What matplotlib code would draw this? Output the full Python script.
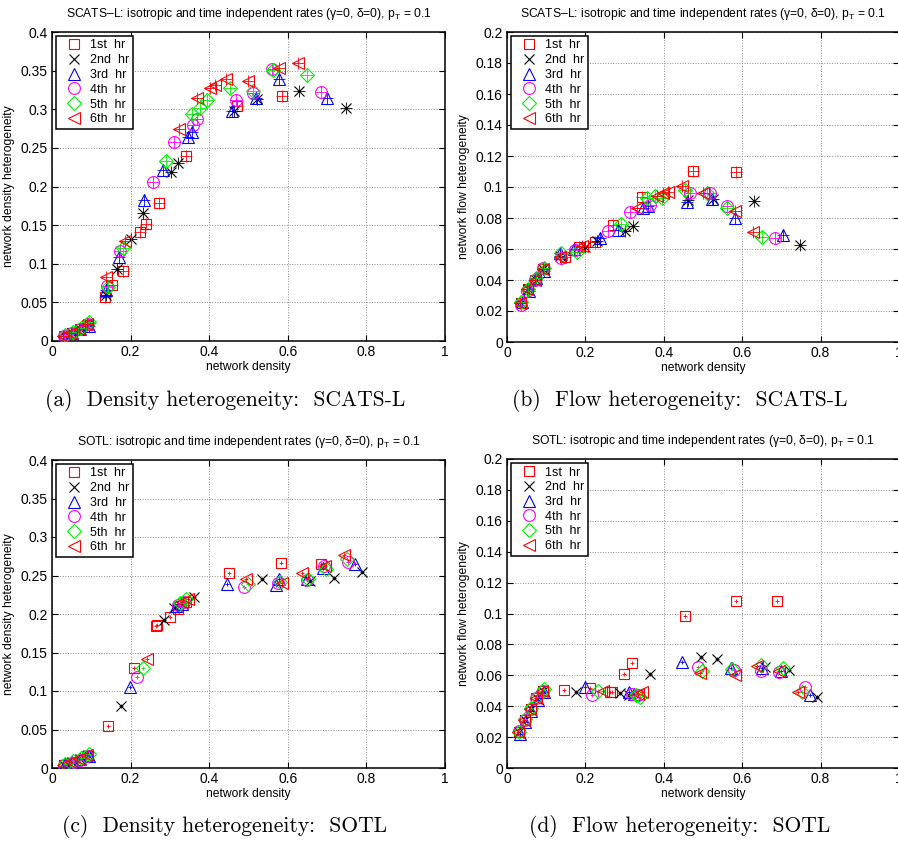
import numpy as np
import matplotlib
matplotlib.use("Agg")
import matplotlib.pyplot as plt

plt.rcParams['font.family'] = ['Liberation Sans', 'DejaVu Sans']
plt.rcParams['mathtext.fontset'] = 'custom'
plt.rcParams['mathtext.rm'] = 'Liberation Sans'
plt.rcParams['mathtext.it'] = 'Liberation Sans'

hours = ['1st  hr', '2nd  hr', '3rd  hr', '4th  hr', '5th  hr', '6th  hr']
colors = ['#ff0000', '#000000', '#0000ff', '#ff00ff', '#00ee00', '#ff0000']
markers = ['s', 'x', '^', 'o', 'D', '<']
msizes = [6.5, 6.5, 9, 8.5, 7, 9]

# (a) SCATS-L density heterogeneity
a_x = [
    [0.03, 0.05, 0.07, 0.09, 0.135, 0.152, 0.180, 0.224, 0.238, 0.271, 0.341, 0.471, 0.584],
    [0.032, 0.052, 0.072, 0.092, 0.137, 0.165, 0.200, 0.232, 0.302, 0.321, 0.464, 0.522, 0.629, 0.747],
    [0.031, 0.051, 0.071, 0.094, 0.137, 0.171, 0.234, 0.282, 0.347, 0.355, 0.459, 0.518, 0.578, 0.701],
    [0.03, 0.05, 0.07, 0.091, 0.141, 0.173, 0.258, 0.310, 0.358, 0.368, 0.467, 0.512, 0.559, 0.684],
    [0.033, 0.053, 0.073, 0.093, 0.143, 0.180, 0.289, 0.355, 0.377, 0.394, 0.453, 0.512, 0.562, 0.650],
    [0.029, 0.049, 0.069, 0.09, 0.137, 0.186, 0.324, 0.368, 0.402, 0.415, 0.444, 0.498, 0.578, 0.627],
]
a_y = [
    [0.006, 0.010, 0.015, 0.021, 0.057, 0.0725, 0.090, 0.141, 0.152, 0.179, 0.239, 0.304, 0.317],
    [0.007, 0.011, 0.016, 0.022, 0.0595, 0.093, 0.132, 0.166, 0.219, 0.231, 0.298, 0.313, 0.3236, 0.302],
    [0.006, 0.010, 0.015, 0.020, 0.066, 0.109, 0.183, 0.222, 0.264, 0.271, 0.298, 0.314, 0.339, 0.314],
    [0.007, 0.011, 0.016, 0.022, 0.071, 0.116, 0.206, 0.257, 0.280, 0.287, 0.312, 0.321, 0.352, 0.322],
    [0.008, 0.012, 0.017, 0.024, 0.070, 0.120, 0.233, 0.294, 0.302, 0.312, 0.328, 0.323, 0.351, 0.344],
    [0.007, 0.011, 0.016, 0.022, 0.0824, 0.130, 0.275, 0.315, 0.327, 0.332, 0.339, 0.336, 0.353, 0.360],
]

# (b) SCATS-L flow heterogeneity
b_x = [
    [0.035, 0.053, 0.072, 0.092, 0.148, 0.183, 0.224, 0.271, 0.344, 0.474, 0.583],
    [0.036, 0.054, 0.073, 0.093, 0.135, 0.199, 0.229, 0.301, 0.321, 0.462, 0.526, 0.631, 0.747],
    [0.037, 0.055, 0.074, 0.095, 0.135, 0.170, 0.237, 0.284, 0.348, 0.360, 0.458, 0.522, 0.582, 0.705],
    [0.035, 0.052, 0.071, 0.093, 0.139, 0.174, 0.258, 0.314, 0.365, 0.467, 0.518, 0.560, 0.684],
    [0.036, 0.054, 0.073, 0.094, 0.139, 0.178, 0.290, 0.356, 0.378, 0.395, 0.454, 0.510, 0.560, 0.651],
    [0.034, 0.052, 0.072, 0.092, 0.135, 0.191, 0.331, 0.382, 0.399, 0.411, 0.446, 0.501, 0.582, 0.628],
]
b_y = [
    [0.025, 0.034, 0.040, 0.047, 0.055, 0.0615, 0.0647, 0.0755, 0.0938, 0.1102, 0.110],
    [0.025, 0.034, 0.040, 0.047, 0.0556, 0.0615, 0.0654, 0.0718, 0.0748, 0.0916, 0.092, 0.091, 0.0626],
    [0.026, 0.033, 0.041, 0.046, 0.0572, 0.060, 0.0669, 0.0723, 0.0862, 0.088, 0.0905, 0.0925, 0.0798, 0.069],
    [0.024, 0.033, 0.040, 0.048, 0.054, 0.0594, 0.0718, 0.084, 0.0884, 0.096, 0.0963, 0.0877, 0.0669],
    [0.026, 0.034, 0.041, 0.048, 0.0572, 0.0583, 0.0761, 0.0927, 0.094, 0.0927, 0.098, 0.096, 0.0862, 0.0675],
    [0.025, 0.034, 0.040, 0.047, 0.055, 0.062, 0.0862, 0.094, 0.096, 0.097, 0.1006, 0.0959, 0.0847, 0.0712],
]

# (c) SOTL density heterogeneity
c_x = [
    [0.03, 0.05, 0.07, 0.09, 0.143, 0.209, 0.265, 0.268, 0.299, 0.32, 0.34, 0.451, 0.583, 0.685],
    [0.031, 0.051, 0.071, 0.091, 0.175, 0.286, 0.31, 0.362, 0.535, 0.656, 0.717, 0.788],
    [0.032, 0.052, 0.072, 0.095, 0.198, 0.315, 0.33, 0.445, 0.570, 0.577, 0.648, 0.69, 0.771],
    [0.03, 0.05, 0.07, 0.09, 0.217, 0.32, 0.335, 0.489, 0.575, 0.648, 0.692, 0.754],
    [0.033, 0.053, 0.073, 0.094, 0.232, 0.325, 0.34, 0.499, 0.58, 0.652, 0.697, 0.750],
    [0.029, 0.049, 0.069, 0.089, 0.243, 0.33, 0.345, 0.493, 0.585, 0.635, 0.695, 0.743],
]
c_y = [
    [0.004, 0.007, 0.011, 0.016, 0.055, 0.1295, 0.185, 0.186, 0.1965, 0.207, 0.215, 0.2528, 0.2667, 0.2645],
    [0.004, 0.008, 0.012, 0.017, 0.0805, 0.192, 0.208, 0.2225, 0.2455, 0.243, 0.247, 0.255],
    [0.005, 0.008, 0.012, 0.016, 0.1056, 0.210, 0.213, 0.239, 0.238, 0.245, 0.245, 0.26, 0.2645],
    [0.004, 0.007, 0.011, 0.016, 0.1186, 0.212, 0.216, 0.2355, 0.240, 0.244, 0.262, 0.267],
    [0.005, 0.009, 0.013, 0.018, 0.1295, 0.214, 0.219, 0.2385, 0.242, 0.246, 0.259, 0.272],
    [0.004, 0.008, 0.012, 0.017, 0.141, 0.215, 0.219, 0.245, 0.24, 0.2537, 0.262, 0.2766],
]

# (d) SOTL flow heterogeneity
d_x = [
    [0.03, 0.045, 0.06, 0.075, 0.092, 0.145, 0.211, 0.262, 0.268, 0.298, 0.320, 0.454, 0.583, 0.688],
    [0.031, 0.046, 0.061, 0.076, 0.093, 0.175, 0.288, 0.31, 0.365, 0.495, 0.535, 0.658, 0.720, 0.790],
    [0.032, 0.047, 0.062, 0.078, 0.095, 0.199, 0.31, 0.325, 0.446, 0.571, 0.65, 0.70, 0.773],
    [0.03, 0.045, 0.06, 0.075, 0.091, 0.217, 0.32, 0.335, 0.488, 0.578, 0.648, 0.695, 0.760],
    [0.031, 0.046, 0.061, 0.076, 0.094, 0.231, 0.33, 0.34, 0.497, 0.575, 0.648, 0.703, 0.752],
    [0.029, 0.044, 0.059, 0.074, 0.09, 0.244, 0.335, 0.345, 0.492, 0.582, 0.637, 0.695, 0.743],
]
d_y = [
    [0.023, 0.031, 0.038, 0.045, 0.050, 0.0505, 0.052, 0.0494, 0.0494, 0.0608, 0.0678, 0.0986, 0.1083, 0.108],
    [0.023, 0.031, 0.038, 0.045, 0.050, 0.0494, 0.0483, 0.0475, 0.0608, 0.072, 0.0705, 0.0656, 0.0634, 0.0457],
    [0.022, 0.030, 0.037, 0.044, 0.049, 0.0522, 0.049, 0.048, 0.0688, 0.065, 0.065, 0.063, 0.0472],
    [0.024, 0.031, 0.038, 0.045, 0.050, 0.0473, 0.048, 0.047, 0.0656, 0.0635, 0.0626, 0.062, 0.0522],
    [0.023, 0.032, 0.039, 0.046, 0.051, 0.050, 0.047, 0.046, 0.063, 0.064, 0.0667, 0.0645, 0.049],
    [0.023, 0.031, 0.038, 0.045, 0.050, 0.050, 0.048, 0.049, 0.0613, 0.0602, 0.066, 0.0625, 0.0494],
]

title_scats = 'SCATS\u2013L: isotropic and time independent rates (\u03b3=0, \u03b4=0), p$_{\\rm T}$ = 0.1'
title_sotl = 'SOTL: isotropic and time independent rates (\u03b3=0, \u03b4=0), p$_{\\rm T}$ = 0.1'

W, H = 898, 844
fig = plt.figure(figsize=(W / 100, H / 100), dpi=100)

panels = [
    # data x, data y, rect in px (left, top, right, bottom), ymax, ystep, ylabel, title, plus size, caption, caption pos
    (a_x, a_y, (52, 32, 445, 341), 0.4, 0.05, 'network density heterogeneity', title_scats, 8,
     '(a)  Density heterogeneity:  SCATS-L', (225, 400)),
    (b_x, b_y, (507, 32, 899, 342), 0.2, 0.02, 'network flow heterogeneity', title_scats, 8,
     '(b)  Flow heterogeneity:  SCATS-L', (680, 400)),
    (c_x, c_y, (52, 460, 445, 768), 0.4, 0.05, 'network density heterogeneity', title_sotl, 2.5,
     '(c)  Density heterogeneity:  SOTL', (225, 827)),
    (d_x, d_y, (507, 459, 899, 768), 0.2, 0.02, 'network flow heterogeneity', title_sotl, 2.5,
     '(d)  Flow heterogeneity:  SOTL', (680, 827)),
]

for xs, ys, rect, ymax, ystep, ylab, title, plus, cap, cpos in panels:
    l, t, r, b = rect
    ax = fig.add_axes([l / W, 1 - b / H, (r - l) / W, (b - t) / H])
    for i in range(6):
        ax.plot(xs[i], ys[i], ls='none', marker=markers[i], mfc='none', mec=colors[i],
                ms=msizes[i], mew=0.8, label=hours[i], zorder=3)
        ax.plot(xs[i], ys[i], ls='none', marker='+', color=colors[i], ms=plus, mew=0.6, zorder=3)
    ax.set_xlim(0, 1)
    ax.set_ylim(0, ymax)
    ax.set_xticks(np.arange(0, 1.01, 0.2))
    ax.set_yticks(np.arange(0, ymax + 1e-9, ystep))
    ax.xaxis.set_major_formatter(plt.FormatStrFormatter('%g'))
    ax.yaxis.set_major_formatter(plt.FuncFormatter(lambda v, p: '%g' % round(v, 3)))
    ax.tick_params(direction='in', top=True, right=True, length=4, width=0.8, labelsize=10, pad=3)
    ax.grid(True, ls=':', color='0.55', lw=0.7)
    for s in ax.spines.values():
        s.set_linewidth(1.1)
    ax.set_xlabel('network density', fontsize=8.7, labelpad=1)
    ax.set_ylabel(ylab, fontsize=8.7, labelpad=4)
    ax.text(0.5, 1.058, title, transform=ax.transAxes, ha='center', va='center', fontsize=8.7)
    leg = ax.legend(loc='upper left', fontsize=9, frameon=True, fancybox=False, framealpha=1,
                    edgecolor='black', borderpad=0.3, labelspacing=0.22, handlelength=2.3,
                    handletextpad=0.15, borderaxespad=0.3, numpoints=1)
    leg.get_frame().set_linewidth(1.1)
    fig.text(cpos[0] / W, 1 - cpos[1] / H, cap, ha='center', va='center',
             fontsize=15.5, family='cmr10')

fig.savefig('out.png', dpi=100)
